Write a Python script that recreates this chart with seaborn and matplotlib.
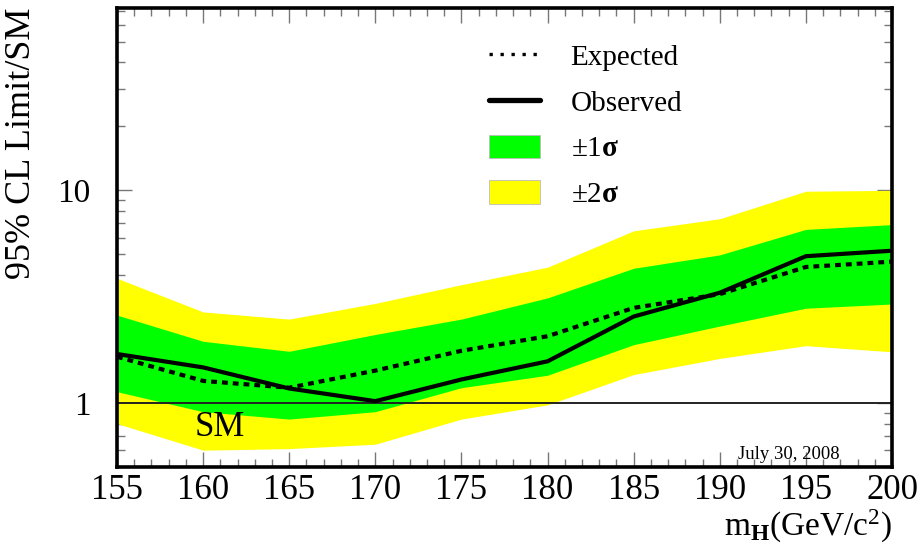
import numpy as np
import pandas as pd
import matplotlib
matplotlib.use("Agg")
import matplotlib.pyplot as plt
import seaborn as sns
from matplotlib.lines import Line2D
from matplotlib.patches import Patch
from matplotlib.ticker import FixedLocator, FixedFormatter, LogLocator, NullFormatter, MultipleLocator

# ---- data ----
mass = [155, 160, 165, 170, 175, 180, 185, 190, 195, 200]
observed = [1.70, 1.47, 1.17, 1.02, 1.29, 1.57, 2.55, 3.30, 4.90, 5.20]
expected = [1.65, 1.27, 1.18, 1.42, 1.76, 2.06, 2.80, 3.25, 4.36, 4.62]
sig1_lo = [1.13, 0.91, 0.84, 0.91, 1.18, 1.35, 1.88, 2.30, 2.79, 2.92]
sig1_hi = [2.59, 1.95, 1.75, 2.10, 2.48, 3.12, 4.30, 4.97, 6.55, 6.90]
sig2_lo = [0.80, 0.60, 0.61, 0.64, 0.84, 0.98, 1.36, 1.62, 1.86, 1.74]
sig2_hi = [3.86, 2.68, 2.48, 2.94, 3.60, 4.35, 6.45, 7.35, 9.90, 10.0]
sm_level = 1.0
x_ticks = [155, 160, 165, 170, 175, 180, 185, 190, 195, 200]
y_ticks = [1, 10]
y_tick_labels = ["1", "10"]
legend_labels = ["Expected", "Observed", r"$\pm$1$\mathbf{\sigma}$", r"$\pm$2$\mathbf{\sigma}$"]

df = pd.DataFrame({"mass": mass, "observed": observed, "expected": expected})

sns.set_theme(style="ticks")
plt.rcParams["font.family"] = ["Liberation Serif", "DejaVu Serif"]
plt.rcParams["mathtext.fontset"] = "custom"
plt.rcParams["mathtext.rm"] = "Liberation Serif"
plt.rcParams["mathtext.it"] = "Liberation Serif:italic"
plt.rcParams["mathtext.bf"] = "Liberation Serif:bold"
plt.rcParams["text.color"] = "black"
plt.rcParams["axes.labelcolor"] = "black"
plt.rcParams["xtick.labelcolor"] = "black"
plt.rcParams["ytick.labelcolor"] = "black"

W, H = 923, 556
fig = plt.figure(figsize=(W / 100, H / 100), dpi=100)
ax = fig.add_axes([117 / W, 1 - 467 / H, (892 - 117) / W, (467 - 8) / H])

GREEN = "#00ff00"
YELLOW = "#ffff00"

ax.fill_between(mass, sig2_lo, sig2_hi, color=YELLOW, linewidth=0, zorder=1)
ax.fill_between(mass, sig1_lo, sig1_hi, color=GREEN, linewidth=0, zorder=2)
ax.axhline(sm_level, color="#222222", linewidth=1.4, zorder=3)

sns.lineplot(data=df, x="mass", y="expected", ax=ax, color="black", linewidth=3.0,
             zorder=4, legend=False)
ax.lines[-1].set_dashes([1.4, 1.2])
ax.lines[-1].set_dash_capstyle("butt")
sns.lineplot(data=df, x="mass", y="observed", ax=ax, color="black", linewidth=3.0,
             zorder=5, legend=False)

ax.set_yscale("log")
ax.set_xlim(155, 200)
ax.set_ylim(0.5, 72)

ax.xaxis.set_major_locator(FixedLocator(x_ticks))
ax.xaxis.set_minor_locator(MultipleLocator(1))
ax.yaxis.set_major_locator(FixedLocator(y_ticks))
ax.yaxis.set_major_formatter(FixedFormatter(y_tick_labels))
ax.yaxis.set_minor_locator(LogLocator(base=10, subs=np.arange(2, 10)))
ax.yaxis.set_minor_formatter(NullFormatter())

ax.tick_params(axis="both", which="both", direction="in", top=True, right=True,
               color="#777777", width=1.0)
ax.tick_params(axis="both", which="major", length=11)
ax.tick_params(axis="both", which="minor", length=5.5)
ax.tick_params(axis="x", which="major", labelsize=25, pad=5)
ax.tick_params(axis="y", which="major", labelsize=24, pad=19)

for s in ax.spines.values():
    s.set_linewidth(2.6)
    s.set_color("black")
    s.set_zorder(10)

ax.set_ylabel("95% CL Limit/SM", fontsize=26, loc="top", labelpad=14)
ax.set_xlabel(r"m$_{\mathbf{H}}$(GeV/c$^{2}$)", fontsize=24, loc="right", labelpad=1)

ax.text(159.53, 0.697, "SM", fontsize=25, ha="left", va="baseline", zorder=6)
ax.text(191.05, 0.543, "July 30, 2008", fontsize=13.5, ha="left", va="baseline", zorder=6)

handles = [
    Line2D([], [], color="black", linestyle=(0, (1, 2.3)), linewidth=2.4),
    Line2D([], [], color="black", linestyle="-", linewidth=3.8),
    Patch(facecolor=GREEN, edgecolor="#bbbbbb", linewidth=0.6),
    Patch(facecolor=YELLOW, edgecolor="#bbbbbb", linewidth=0.6),
]
leg = fig.legend(handles, legend_labels, loc="upper left",
                 bbox_to_anchor=(489 / W, 1 - 43 / H), frameon=False,
                 fontsize=21, handlelength=1.75, handleheight=0.85,
                 handletextpad=1.05, labelspacing=0.62, borderpad=0, borderaxespad=0)

fig.savefig("out.png", dpi=100)
